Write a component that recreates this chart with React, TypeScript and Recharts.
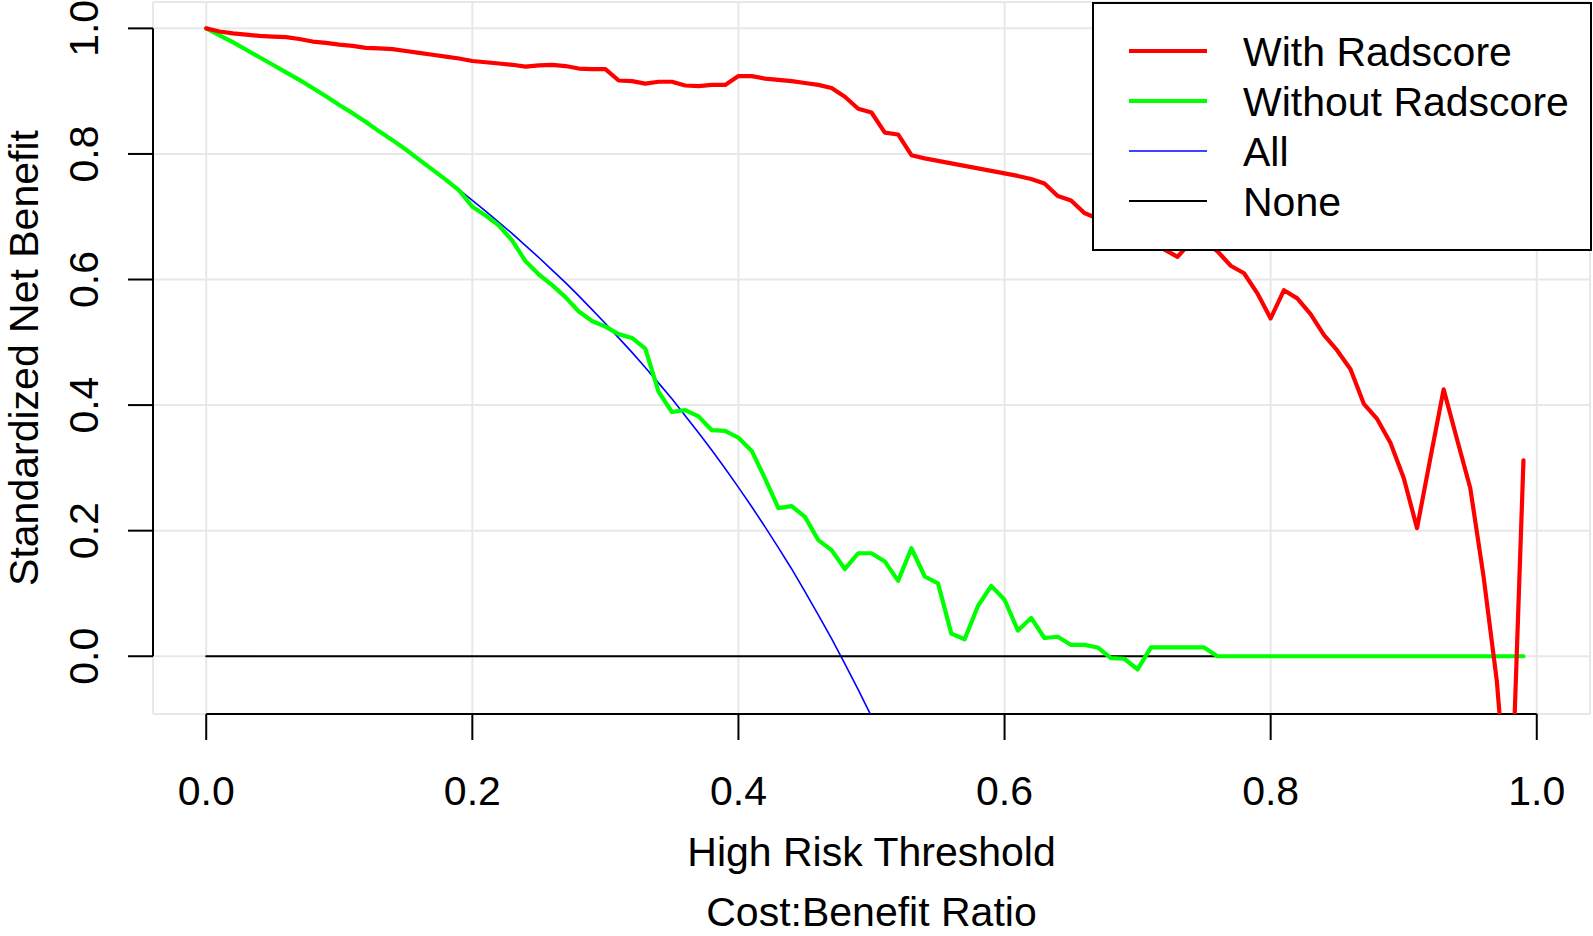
import React from 'react';
import { LineChart, Line, XAxis, YAxis, CartesianGrid, Legend, ReferenceLine } from 'recharts';

const FONT = '"Liberation Sans", Arial, Helvetica, sans-serif';

const thresholds = [
  0, 0.01, 0.02, 0.03, 0.04, 0.05, 0.06, 0.07, 0.08, 0.09,
  0.1, 0.11, 0.12, 0.13, 0.14, 0.15, 0.16, 0.17, 0.18, 0.19,
  0.2, 0.21, 0.22, 0.23, 0.24, 0.25, 0.26, 0.27, 0.28, 0.29,
  0.3, 0.31, 0.32, 0.33, 0.34, 0.35, 0.36, 0.37, 0.38, 0.39,
  0.4, 0.41, 0.42, 0.43, 0.44, 0.45, 0.46, 0.47, 0.48, 0.49,
  0.5, 0.51, 0.52, 0.53, 0.54, 0.55, 0.56, 0.57, 0.58, 0.59,
  0.6, 0.61, 0.62, 0.63, 0.64, 0.65, 0.66, 0.67, 0.68, 0.69,
  0.7, 0.71, 0.72, 0.73, 0.74, 0.75, 0.76, 0.77, 0.78, 0.79,
  0.8, 0.81, 0.82, 0.83, 0.84, 0.85, 0.86, 0.87, 0.88, 0.89,
  0.9, 0.91, 0.92, 0.93, 0.94, 0.95, 0.96, 0.97, 0.98, 0.99,
];

// standardized net benefit, model with radscore
const withRadscore = [
  1.0, 0.995, 0.992, 0.99, 0.988, 0.987, 0.986, 0.983, 0.979, 0.977,
  0.974, 0.972, 0.969, 0.968, 0.967, 0.964, 0.961, 0.958, 0.955, 0.952,
  0.948, 0.946, 0.944, 0.942, 0.939, 0.941, 0.942, 0.94, 0.936, 0.935,
  0.935, 0.917, 0.916, 0.912, 0.915, 0.915, 0.909, 0.908, 0.91, 0.91,
  0.924, 0.924, 0.92, 0.918, 0.916, 0.913, 0.91, 0.905, 0.891, 0.872,
  0.866, 0.834, 0.831, 0.798, 0.793, 0.789, 0.785, 0.781, 0.777, 0.773,
  0.769, 0.765, 0.76, 0.753, 0.733, 0.726, 0.706, 0.697, 0.69, 0.682,
  0.672, 0.66, 0.648, 0.636, 0.66, 0.662, 0.645, 0.622, 0.61, 0.578,
  0.538, 0.583, 0.57, 0.545, 0.512, 0.487, 0.457, 0.402, 0.378, 0.34,
  0.284, 0.204, 0.315, 0.425, 0.346, 0.268, 0.127, -0.04, -0.3, 0.312,
];

// model without radscore
const withoutRadscore = [
  1.0, 0.989, 0.978, 0.966, 0.954, 0.942, 0.93, 0.918, 0.905, 0.892,
  0.878, 0.865, 0.851, 0.836, 0.822, 0.807, 0.791, 0.775, 0.759, 0.742,
  0.716, 0.702, 0.686, 0.662, 0.629, 0.608, 0.591, 0.572, 0.549, 0.534,
  0.525, 0.513, 0.507, 0.49, 0.421, 0.389, 0.392, 0.382, 0.36, 0.359,
  0.348, 0.327, 0.283, 0.236, 0.239, 0.222, 0.185, 0.169, 0.139, 0.164,
  0.164, 0.151, 0.12, 0.172, 0.127, 0.116, 0.036, 0.027, 0.08, 0.112,
  0.09, 0.041, 0.061, 0.029, 0.031, 0.018, 0.018, 0.014, -0.003, -0.004,
  -0.021, 0.014, 0.014, 0.014, 0.014, 0.014, 0, 0, 0, 0,
  0, 0, 0, 0, 0, 0, 0, 0, 0, 0,
  0, 0, 0, 0, 0, 0, 0, 0, 0, 0,
];

// treat all (only up to 0.50, it leaves the plot after that)
const treatAll = [
  1.0, 0.989, 0.978, 0.966, 0.954, 0.942, 0.93, 0.918, 0.905, 0.892,
  0.878, 0.865, 0.851, 0.836, 0.822, 0.807, 0.791, 0.775, 0.759, 0.743,
  0.726, 0.709, 0.691, 0.673, 0.654, 0.635, 0.615, 0.595, 0.574, 0.552,
  0.53, 0.507, 0.484, 0.46, 0.435, 0.41, 0.383, 0.356, 0.328, 0.299,
  0.269, 0.238, 0.206, 0.173, 0.139, 0.103, 0.066, 0.028, -0.012, -0.053,
  -0.096,
];

// treat none
const treatNone = [
  0, 0, 0, 0, 0, 0, 0, 0, 0, 0, 0, 0, 0, 0, 0, 0, 0, 0, 0, 0,
  0, 0, 0, 0, 0, 0, 0, 0, 0, 0, 0, 0, 0, 0, 0, 0, 0, 0, 0, 0,
  0, 0, 0, 0, 0, 0, 0, 0, 0, 0, 0, 0, 0, 0, 0, 0, 0, 0, 0, 0,
  0, 0, 0, 0, 0, 0, 0, 0, 0, 0, 0, 0, 0, 0, 0, 0, 0, 0, 0, 0,
  0, 0, 0, 0, 0, 0, 0, 0, 0, 0, 0, 0, 0, 0, 0, 0, 0, 0, 0, 0,
];

const xTicks = [0, 0.2, 0.4, 0.6, 0.8, 1.0];
const yTicks = [0, 0.2, 0.4, 0.6, 0.8, 1.0];

// R-style axis ranges (4% padding)
const X_MIN = -0.04;
const X_MAX = 1.04;
const Y_MIN = -0.092;
const Y_MAX = 1.042;

const series = [
  { key: 'with', name: 'With Radscore', color: '#ff0000', width: 4.2 },
  { key: 'without', name: 'Without Radscore', color: '#00ff00', width: 4.2 },
  { key: 'all', name: 'All', color: '#0000ff', width: 1.6 },
  { key: 'none', name: 'None', color: '#000000', width: 2 },
];

const table = thresholds.map((t, i) => ({
  threshold: t,
  with: withRadscore[i],
  without: withoutRadscore[i],
  all: i < treatAll.length ? treatAll[i] : null,
  none: treatNone[i],
}));

function XTick(props: any) {
  const { x, y, payload } = props;
  return (
    <text x={x} y={y + 63} textAnchor="middle" fontSize={41} fontFamily={FONT} fill="#000">
      {Number(payload.value).toFixed(1)}
    </text>
  );
}

function YTick(props: any) {
  const { x, y, payload } = props;
  const bx = x - 28;
  return (
    <text x={bx} y={y} transform={`rotate(-90 ${bx} ${y})`} textAnchor="middle" fontSize={41} fontFamily={FONT} fill="#000">
      {Number(payload.value).toFixed(1)}
    </text>
  );
}

function XTitle(props: any) {
  const vb = props.viewBox;
  const cx = vb.x + vb.width / 2;
  return (
    <g>
      <text x={cx} y={vb.y + 152} textAnchor="middle" fontSize={41} fontFamily={FONT} fill="#000">High Risk Threshold</text>
      <text x={cx} y={vb.y + 212} textAnchor="middle" fontSize={41} fontFamily={FONT} fill="#000">Cost:Benefit Ratio</text>
    </g>
  );
}

function YTitle(props: any) {
  const vb = props.viewBox;
  const bx = vb.x + 38;
  const cy = vb.y + vb.height / 2;
  return (
    <text x={bx} y={cy} transform={`rotate(-90 ${bx} ${cy})`} textAnchor="middle" fontSize={41} fontFamily={FONT} fill="#000">
      Standardized Net Benefit
    </text>
  );
}

function LegendBox() {
  return (
    <div style={{ boxSizing: 'border-box', width: 500, height: 249, border: '2px solid #000', background: '#fff' }}>
      <svg width={496} height={245}>
        {series.map((s, i) => (
          <g key={s.key}>
            <line x1={35} x2={113} y1={47 + i * 50} y2={47 + i * 50} stroke={s.color} strokeWidth={s.width} />
            <text x={149} y={62 + i * 50} fontSize={41} fontFamily={FONT} fill="#000">{s.name}</text>
          </g>
        ))}
      </svg>
    </div>
  );
}

// lines drawn in R's order: all, none, then the two models
const drawOrder = ['all', 'none', 'without', 'with'];

export default function App() {
  return (
    <div style={{ position: 'absolute', left: 0, top: 0, width: 1593, height: 936, background: '#fff' }}>
      <LineChart width={1593} height={936} data={table} margin={{ top: 2, right: 3, bottom: 0, left: 0 }}>
        <CartesianGrid stroke="#e8e8e8" strokeWidth={2} />
        <XAxis
          type="number"
          dataKey="threshold"
          domain={[X_MIN, X_MAX]}
          ticks={xTicks}
          interval={0}
          allowDataOverflow
          height={222}
          tickSize={26}
          axisLine={false}
          tickLine={{ stroke: '#000', strokeWidth: 2 }}
          tick={<XTick />}
          label={<XTitle />}
        />
        <YAxis
          type="number"
          domain={[Y_MIN, Y_MAX]}
          ticks={yTicks}
          interval={0}
          allowDataOverflow
          width={153}
          tickSize={25}
          axisLine={false}
          tickLine={{ stroke: '#000', strokeWidth: 2 }}
          tick={<YTick />}
          label={<YTitle />}
        />
        <ReferenceLine segment={[{ x: 0, y: Y_MIN }, { x: 1, y: Y_MIN }]} stroke="#000" strokeWidth={2} />
        <ReferenceLine segment={[{ x: X_MIN, y: 0 }, { x: X_MIN, y: 1 }]} stroke="#000" strokeWidth={2} />
        {drawOrder.map((k) => {
          const s = series.find((d) => d.key === k)!;
          return (
            <Line
              key={s.key}
              type="linear"
              dataKey={s.key}
              name={s.name}
              stroke={s.color}
              strokeWidth={s.width}
              strokeLinejoin="round"
              strokeLinecap="round"
              dot={false}
              activeDot={false}
              isAnimationActive={false}
            />
          );
        })}
        <Legend
          layout="vertical"
          align="center"
          verticalAlign="middle"
          content={<LegendBox />}
          wrapperStyle={{ left: 1092, top: 2, width: 500, height: 249 }}
        />
      </LineChart>
    </div>
  );
}
